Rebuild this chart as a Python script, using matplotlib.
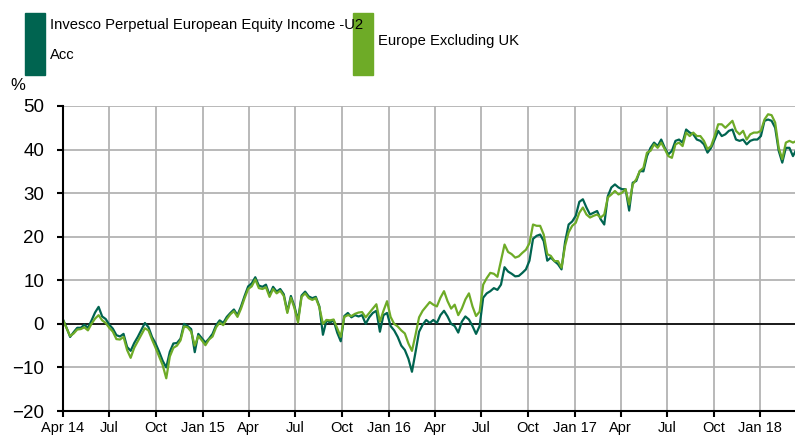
import matplotlib
matplotlib.use("Agg")
import matplotlib.pyplot as plt
from matplotlib import font_manager
from matplotlib.patches import Rectangle
import pandas as pd

# weekly cumulative performance, %
start = "2014-04-01"
fund = [
    1.0, -0.9, -3.0, -1.9, -0.9, -0.9, -0.2, -0.9, 0.75, 2.6,
    3.9, 1.7, 1.1, -0.2, -1.1, -2.6, -2.9, -2.3, -5.3, -6.2,
    -4.4, -3.0, -1.4, 0.2, -0.75, -3.0, -4.5, -6.4, -8.5, -10.0,
    -6.4, -4.5, -4.4, -3.4, 0.0, -0.5, -1.2, -6.5, -2.3, -3.3,
    -4.3, -3.4, -2.3, -0.3, 0.8, 0.2, 1.6, 2.5, 3.3, 2.0,
    4.0, 6.4, 8.6, 9.3, 10.7, 8.8, 8.5, 9.0, 6.6, 8.5,
    7.4, 8.0, 6.8, 2.8, 6.4, 4.0, 0.8, 6.5, 7.4, 6.3,
    5.9, 6.2, 4.0, -2.5, 0.8, 0.3, 0.8, -2.0, -4.0, 1.8,
    2.5, 1.5, 2.0, 1.7, 2.0, 0.0, 1.5, 2.5, 3.0, -1.8,
    2.0, 2.5, -0.5, -1.5, -3.0, -5.0, -6.0, -8.0, -11.0, -6.5,
    -1.8, -0.2, 0.9, 0.2, 0.9, 0.2, 2.0, 3.0, 1.7, 0.0,
    -0.5, -2.0, 0.5, 1.7, 1.0, -0.5, -2.3, -0.5, 6.0, 7.0,
    7.5, 8.2, 7.8, 9.0, 13.0, 12.0, 11.5, 10.9, 11.0, 11.7,
    12.5, 14.5, 19.5, 20.2, 20.5, 19.0, 14.5, 15.2, 14.4, 13.7,
    12.5, 18.8, 22.8, 23.5, 24.8, 28.0, 28.6, 26.7, 25.1, 25.5,
    25.9, 24.0, 22.8, 29.3, 31.3, 32.0, 31.3, 30.9, 30.9, 26.0,
    32.4, 32.8, 35.1, 35.0, 38.5, 40.4, 41.6, 40.8, 42.3, 40.4,
    38.9, 39.7, 42.0, 42.3, 41.6, 44.6, 43.9, 43.5, 42.3, 42.0,
    41.2, 39.3, 40.4, 42.3, 44.3, 43.1, 43.5, 44.3, 44.6, 42.3,
    42.0, 42.3, 41.2, 42.0, 42.3, 42.3, 43.1, 46.6, 46.9, 46.6,
    45.0, 39.7, 37.0, 40.4, 40.4, 38.5, 40.1,
]
sector = [
    0.9, -1.0, -2.8, -2.2, -1.3, -1.2, -0.8, -1.5, 0.0, 1.2,
    2.0, 0.8, 0.2, -0.9, -1.8, -3.5, -3.6, -3.0, -6.0, -7.8,
    -5.5, -4.0, -2.5, -1.0, -1.5, -3.6, -5.5, -7.5, -9.5, -12.5,
    -7.5, -5.5, -5.0, -3.8, -0.6, -0.8, -1.8, -5.0, -2.8, -3.8,
    -4.9, -3.6, -2.9, -0.8, 0.3, -0.3, 1.1, 2.2, 2.9, 1.6,
    3.5, 5.9, 8.0, 8.6, 10.2, 8.2, 8.0, 8.4, 6.2, 8.0,
    7.0, 7.6, 6.4, 2.5, 6.0, 3.6, 0.3, 6.2, 7.0, 5.9,
    5.5, 5.9, 3.8, 0.0, 0.9, 0.8, 1.0, -1.0, -3.0, 1.6,
    2.0, 1.8, 2.3, 2.6, 2.7, 1.5, 2.5, 3.5, 4.5, 0.5,
    3.0, 5.2, 1.6, 0.0, -0.6, -1.5, -2.2, -4.5, -6.2, -2.5,
    1.5, 3.0, 4.0, 5.0, 4.4, 4.0, 6.0, 7.5, 5.2, 3.5,
    4.4, 2.0, 3.5, 5.6, 7.0, 4.0, 1.8, 2.8, 9.0, 10.5,
    11.7, 11.5, 10.8, 14.5, 18.2, 16.5, 16.0, 15.2, 15.5, 16.3,
    17.0, 18.5, 22.8, 22.5, 22.5, 20.5, 16.0, 15.6, 14.4, 14.4,
    12.9, 17.9, 21.0, 22.5, 23.2, 25.5, 26.7, 25.1, 24.4, 24.8,
    25.1, 24.4, 25.1, 29.0, 29.7, 30.5, 29.7, 30.1, 30.9, 27.4,
    32.0, 33.2, 35.1, 35.8, 39.3, 39.7, 41.2, 40.4, 41.6, 40.1,
    38.5, 38.1, 41.2, 41.6, 40.8, 43.9, 43.1, 43.9, 43.1, 43.1,
    42.0, 40.1, 40.8, 43.1, 45.8, 45.8, 45.0, 45.8, 46.6, 44.3,
    43.5, 44.3, 42.3, 43.5, 43.9, 43.9, 44.3, 46.9, 48.1, 47.9,
    46.2, 40.4, 37.8, 41.6, 42.0, 41.6, 42.0,
]
fund_name = "Invesco Perpetual European Equity Income -U2\nAcc"
sector_name = "Europe Excluding UK"

tick_dates = ["2014-04-01", "2014-07-01", "2014-10-01", "2015-01-01",
              "2015-04-01", "2015-07-01", "2015-10-01", "2016-01-01",
              "2016-04-01", "2016-07-01", "2016-10-01", "2017-01-01",
              "2017-04-01", "2017-07-01", "2017-10-01", "2018-01-01"]
tick_labels = ["Apr 14", "Jul", "Oct", "Jan 15", "Apr", "Jul", "Oct", "Jan 16",
               "Apr", "Jul", "Oct", "Jan 17", "Apr", "Jul", "Oct", "Jan 18"]

DARK = "#006450"
LIGHT = "#6EAB27"
GRID = "#b3b3b3"

names = {f.name for f in font_manager.fontManager.ttflist}
plt.rcParams["font.family"] = "Liberation Sans"
legend_font = "Liberation Sans Narrow" if "Liberation Sans Narrow" in names else "Liberation Sans"
legend_size = 12.5 if legend_font.endswith("Narrow") else 10.6


def plot_chart():
    dates = pd.date_range(start, periods=len(fund), freq="7D")
    fig = plt.figure(figsize=(7.95, 4.37), dpi=100)
    ax = fig.add_axes([63 / 795, 1 - 411 / 437, 1 - 63 / 795, 305 / 437])

    ax.plot(dates, fund, color=DARK, lw=1.6, zorder=3)
    ax.plot(dates, sector, color=LIGHT, lw=1.6, zorder=4)
    ax.axhline(0, color="black", lw=1.2, zorder=2)

    ax.set_ylim(-20, 50)
    ax.set_xlim(pd.Timestamp("2014-04-01"), pd.Timestamp("2018-03-10"))
    ax.set_yticks(range(-20, 51, 10))
    ax.set_xticks(pd.to_datetime(tick_dates))
    ax.set_xticklabels(tick_labels)

    ax.grid(True, color=GRID, lw=1.3, zorder=0)
    ax.set_axisbelow(True)
    for side in ("top", "right"):
        ax.spines[side].set_visible(False)
    for side in ("left", "bottom"):
        ax.spines[side].set_linewidth(1.5)
        ax.spines[side].set_zorder(5)
    ax.tick_params(axis="y", labelsize=13.5, length=4.5, width=1.5, pad=9)
    ax.tick_params(axis="x", labelsize=10.5, length=4.5, width=1.5, pad=3)

    fig.text(10 / 795, 1 - 85 / 437, "%", fontsize=12, va="center")

    # legend drawn by hand, like the original
    fig.patches.append(Rectangle((25 / 795, 1 - 75 / 437), 20 / 795, 62 / 437,
                                 transform=fig.transFigure, color=DARK))
    fig.patches.append(Rectangle((353 / 795, 1 - 75 / 437), 20 / 795, 62 / 437,
                                 transform=fig.transFigure, color=LIGHT))
    fig.text(50 / 795, 1 - 40 / 437, fund_name, fontsize=legend_size,
             family=legend_font, va="center", linespacing=2.4)
    fig.text(378 / 795, 1 - 41 / 437, sector_name, fontsize=legend_size,
             family=legend_font, va="center")

    fig.savefig("out.png", dpi=100)


def main():
    plot_chart()


if __name__ == "__main__":
    main()
